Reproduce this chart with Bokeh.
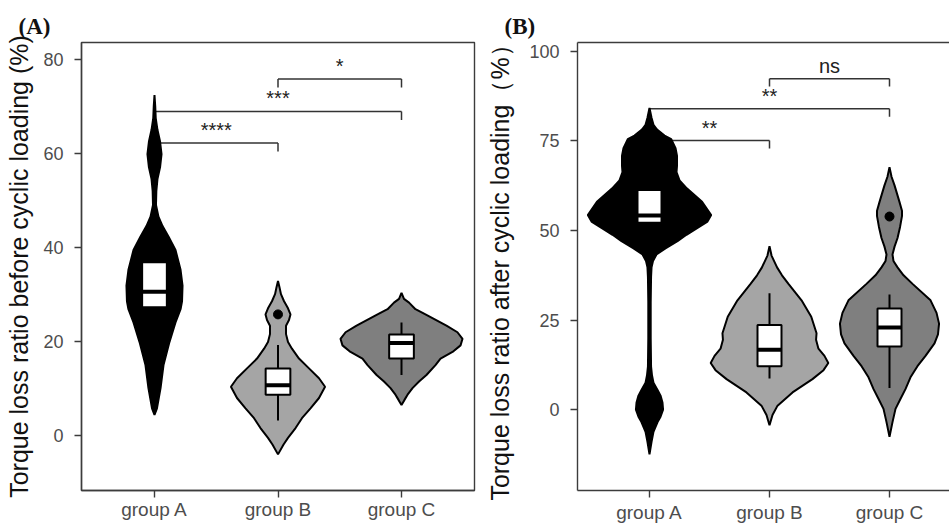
from bokeh.plotting import figure
from bokeh.layouts import row
from bokeh.models import Range1d, FixedTicker, LinearAxis, Title
from bokeh.embed import file_html
from bokeh.resources import INLINE
from bokeh.core.properties import value

groups = ["group A", "group B", "group C"]
fills = ["#000000", "#a5a5a5", "#7f7f7f"]

# ---------- Panel A: before cyclic loading ----------
# violin outlines: y values and half widths (category units)
a_A_y = [72.4, 70.0, 67.5, 65.0, 62.5, 59.8, 57.0, 54.5, 52.0, 49.0, 46.5, 44.5, 42.3, 39.4, 35.2, 31.8, 28.5, 26.8, 24.0, 19.8, 14.9, 10.0, 5.7, 4.3]
a_A_w = [0.0, 0.006, 0.010, 0.024, 0.045, 0.057, 0.045, 0.024, 0.015, 0.012, 0.032, 0.065, 0.113, 0.170, 0.211, 0.227, 0.223, 0.211, 0.170, 0.121, 0.073, 0.049, 0.020, 0.0]
a_B_y = [32.8, 31.5, 30.0, 28.5, 27.0, 25.7, 24.5, 23.3, 21.5, 19.8, 18.4, 16.3, 14.2, 12.1, 10.3, 7.9, 5.7, 3.6, 1.5, -0.6, -2.0, -4.1]
a_B_w = [0.0, 0.012, 0.024, 0.049, 0.081, 0.101, 0.089, 0.065, 0.065, 0.081, 0.113, 0.170, 0.251, 0.332, 0.381, 0.332, 0.263, 0.194, 0.142, 0.081, 0.045, 0.0]
a_C_y = [30.3, 29.0, 28.2, 26.8, 25.7, 23.3, 21.9, 20.5, 19.1, 17.7, 16.3, 14.9, 12.8, 11.4, 10.0, 8.6, 7.5, 6.4]
a_C_w = [0.0, 0.020, 0.061, 0.113, 0.194, 0.364, 0.453, 0.494, 0.478, 0.413, 0.316, 0.275, 0.202, 0.142, 0.089, 0.049, 0.024, 0.0]

a_q1 = [27.2, 8.6, 16.3]
a_med = [30.5, 10.6, 19.6]
a_q3 = [36.8, 14.2, 21.4]
a_lo = [18.0, 3.1, 12.8]
a_hi = [44.0, 19.2, 24.0]
a_out_x = [1, 2]
a_out_y = [60.0, 25.7]

a_br_from = [2, 1, 1]
a_br_to = [3, 3, 2]
a_br_y = [75.8, 68.9, 62.2]
a_br_label = ["*", "***", "****"]
a_tip = 1.8

# ---------- Panel B: after cyclic loading ----------
b_A_y = [84.2, 81.5, 79.5, 78.2, 76.5, 75.5, 73.0, 70.9, 68.0, 66.3, 64.0, 61.7, 58.0, 54.3, 52.5, 50.7, 48.8, 47.0, 45.0, 43.3, 41.5, 39.7, 37.0, 30.0, 20.0, 12.0, 9.5, 7.5, 5.5, 3.9, 2.0, 0.0, -2.0, -3.5, -6.2, -9.0, -12.5]
b_A_w = [0.0, 0.017, 0.033, 0.063, 0.125, 0.181, 0.217, 0.229, 0.229, 0.225, 0.250, 0.313, 0.438, 0.514, 0.483, 0.400, 0.308, 0.233, 0.133, 0.058, 0.029, 0.017, 0.013, 0.010, 0.010, 0.013, 0.021, 0.033, 0.067, 0.092, 0.108, 0.113, 0.092, 0.067, 0.033, 0.017, 0.0]
b_B_y = [45.6, 43.0, 39.7, 37.5, 35.1, 30.5, 25.9, 21.3, 19.5, 17.0, 15.0, 13.0, 11.0, 8.5, 4.8, 1.1, -1.5, -4.4]
b_B_w = [0.0, 0.017, 0.063, 0.104, 0.158, 0.267, 0.348, 0.392, 0.388, 0.408, 0.458, 0.490, 0.450, 0.358, 0.192, 0.067, 0.025, 0.0]
b_C_y = [67.7, 65.0, 62.6, 58.0, 55.5, 54.0, 51.0, 47.9, 45.5, 43.3, 41.5, 39.7, 37.5, 35.1, 30.5, 27.0, 24.0, 21.0, 18.5, 15.0, 12.1, 9.0, 5.7, 3.0, 0.2, -3.5, -7.6]
b_C_w = [0.0, 0.017, 0.042, 0.083, 0.104, 0.104, 0.088, 0.067, 0.042, 0.025, 0.033, 0.067, 0.117, 0.192, 0.342, 0.392, 0.413, 0.404, 0.375, 0.300, 0.233, 0.175, 0.133, 0.092, 0.050, 0.025, 0.0]

b_q1 = [52.2, 12.1, 17.6]
b_med = [54.2, 16.7, 22.9]
b_q3 = [61.3, 23.6, 28.2]
b_lo = [47.0, 8.7, 6.0]
b_hi = [68.0, 32.5, 32.1]
b_out_x = [1, 3]
b_out_y = [0.0, 53.9]

b_br_from = [2, 1, 1]
b_br_to = [3, 3, 2]
b_br_y = [92.4, 84.0, 75.1]
b_br_label = ["ns", "**", "**"]
b_tip = 2.2

SANS = "Liberation Sans"
AXIS_COL = "#3c3c3c"


def style(p, yticks, ylabel, label_standoff, xlab_standoff):
    p.grid.visible = False
    p.xaxis.ticker = FixedTicker(ticks=[1, 2, 3])
    p.xaxis.major_label_overrides = {1: groups[0], 2: groups[1], 3: groups[2]}
    p.yaxis.ticker = FixedTicker(ticks=yticks)
    p.yaxis.axis_label = ylabel
    p.yaxis.axis_label_standoff = label_standoff
    p.yaxis.axis_label_text_font = SANS
    p.yaxis.axis_label_text_font_size = "25px"
    p.yaxis.axis_label_text_font_style = "normal"
    p.yaxis.axis_label_text_color = "#111111"
    for ax in (p.xaxis, p.yaxis):
        ax.axis_line_color = AXIS_COL
        ax.axis_line_width = 1.4
        ax.major_tick_line_color = AXIS_COL
        ax.major_tick_line_width = 1.4
        ax.major_tick_out = 7
        ax.major_tick_in = 0
        ax.minor_tick_line_color = None
        ax.major_label_text_font = SANS
        ax.major_label_text_color = "#4d4d4d"
    p.yaxis.major_label_text_font_size = "18px"
    p.xaxis.major_label_text_font_size = "19px"
    p.yaxis.major_label_standoff = 11
    p.xaxis.major_label_standoff = xlab_standoff


def draw(p, profiles, q1, med, q3, lo, hi, out_x, out_y, br_from, br_to, br_y, br_lab, tip):
    # brackets
    x0s, y0s, x1s, y1s = [], [], [], []
    tx, ty = [], []
    for a, b, y in zip(br_from, br_to, br_y):
        x0s += [a, a, b]
        y0s += [y, y, y]
        x1s += [b, a, b]
        y1s += [y, y - tip, y - tip]
        tx.append((a + b) / 2)
        ty.append(y)
    p.segment(x0s, y0s, x1s, y1s, line_color="#333333", line_width=1.5)
    p.text(tx, ty, text=br_lab, text_align="center", text_baseline="alphabetic",
           y_offset=-13, text_font=value(SANS), text_font_size="20px", text_color="#222222")
    # violins
    for i, (ys, ws) in enumerate(profiles):
        c = i + 1
        xs = [c + w for w in ws] + [c - w for w in reversed(ws)]
        yy = list(ys) + list(reversed(ys))
        p.patch(xs, yy, fill_color=fills[i], line_color="black", line_width=2)
    cs = [1, 2, 3]
    # whiskers
    p.segment(cs, q3, cs, hi, line_color="black", line_width=2)
    p.segment(cs, q1, cs, lo, line_color="black", line_width=2)
    # boxes
    p.quad(left=[c - 0.1 for c in cs], right=[c + 0.1 for c in cs], bottom=q1, top=q3,
           fill_color="white", line_color="black", line_width=2)
    p.segment([c - 0.1 for c in cs], med, [c + 0.1 for c in cs], med, line_color="black", line_width=4)
    # outliers
    p.scatter(out_x, out_y, size=9, color="black")


def panel_title(text, offset):
    return Title(text=text, align="left", offset=offset, standoff=7,
                 text_font="Liberation Serif", text_font_style="bold",
                 text_font_size="23px", text_color="#111111")


# ---------- figure A ----------
pA = figure(width=480, height=525, output_backend="svg", toolbar_location=None,
            x_range=Range1d(0.409, 3.591), y_range=Range1d(-11.79, 83.58),
            min_border_left=81, min_border_right=6, min_border_top=37, min_border_bottom=35,
            title=panel_title("(A)", -63))
pA.outline_line_color = AXIS_COL
pA.outline_line_width = 1.4
style(pA, [0, 20, 40, 60, 80], "Torque loss ratio before cyclic loading (%)", 7, 1)
draw(pA, [(a_A_y, a_A_w), (a_B_y, a_B_w), (a_C_y, a_C_w)], a_q1, a_med, a_q3, a_lo, a_hi,
     a_out_x, a_out_y, a_br_from, a_br_to, a_br_y, a_br_label, a_tip)

# ---------- figure B ----------
pB = figure(width=469, height=525, output_backend="svg", toolbar_location=None,
            x_range=Range1d(0.4, 3.5), y_range=Range1d(-22.6, 102.5),
            min_border_left=97, min_border_right=0, min_border_top=42, min_border_bottom=29,
            title=panel_title("(B)", -73))
pB.outline_line_color = None
style(pB, [0, 25, 50, 75, 100], "Torque loss ratio after cyclic loading（%）", 12, 4)
top_axis = LinearAxis(ticker=FixedTicker(ticks=[]), major_label_text_font_size="0px",
                      major_tick_line_color=None, minor_tick_line_color=None,
                      axis_line_color=AXIS_COL, axis_line_width=1.4)
pB.add_layout(top_axis, "above")
draw(pB, [(b_A_y, b_A_w), (b_B_y, b_B_w), (b_C_y, b_C_w)], b_q1, b_med, b_q3, b_lo, b_hi,
     b_out_x, b_out_y, b_br_from, b_br_to, b_br_y, b_br_label, b_tip)

layout = row(pA, pB)
open("out.html", "w").write(file_html(layout, INLINE))
